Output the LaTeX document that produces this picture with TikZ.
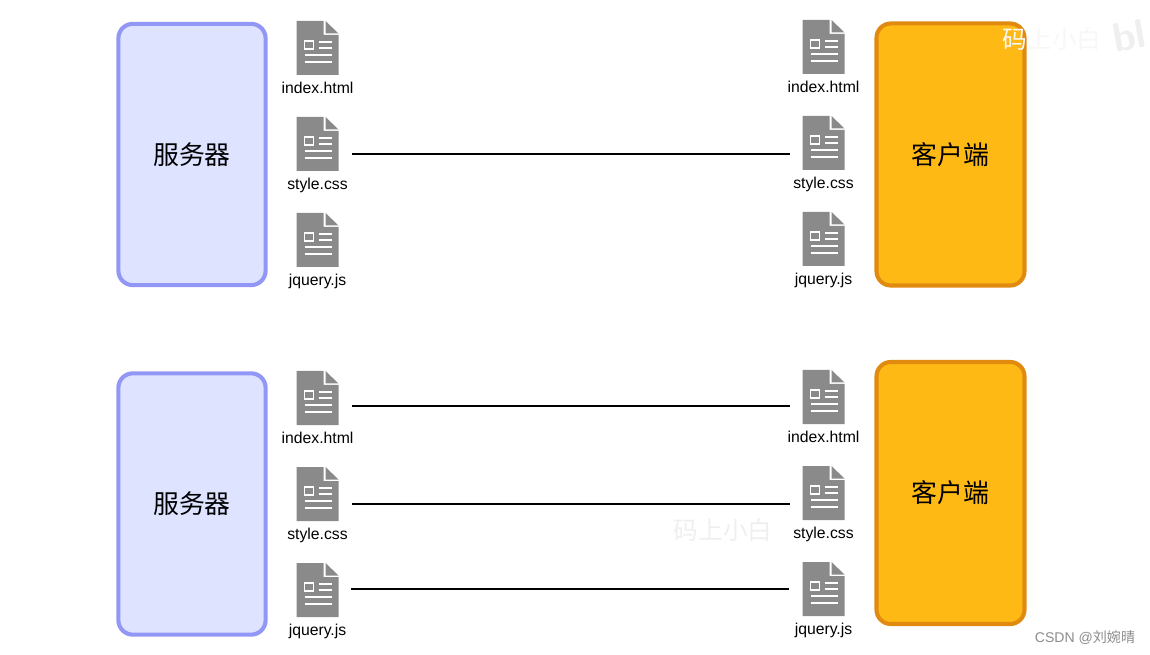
\documentclass[tikz,border=0pt]{standalone}
\usepackage{fontspec}
\usepackage{xcolor}
\usepackage{tikz}
\usetikzlibrary{positioning,calc}
\setmainfont{Liberation Sans}
\newfontfamily\cjk{Noto Sans CJK SC}
\definecolor{serverc}{HTML}{DEE3FF}
\definecolor{serverl}{HTML}{9296F5}
\definecolor{clientc}{HTML}{FFB915}
\definecolor{clientl}{HTML}{E08B0F}
\definecolor{docc}{HTML}{8A8A8A}
\definecolor{markc}{HTML}{EFEFEF}
\definecolor{csdnc}{HTML}{8C8C8C}
\tikzset{
  server/.style={draw=serverl, fill=serverc, line width=2.9pt, rounded corners=0.36cm, minimum width=3.68cm, minimum height=6.53cm, font=\cjk\fontsize{18.4}{18.4}\selectfont},
  client/.style={draw=clientl, fill=clientc, line width=2.9pt, rounded corners=0.36cm, minimum width=3.7cm, minimum height=6.55cm, font=\cjk\fontsize{18.4}{18.4}\selectfont},
  docicon/.style={minimum width=1.05cm, minimum height=1.35cm, inner sep=0pt, path picture={
    \fill[docc] (-21,-27) -- (6,-27) -- (6,-13) -- (21,-13) -- (21,27) -- (-21,27) -- cycle;
    \fill[docc] (8,-27) -- (21,-14.5) -- (8,-14.5) -- cycle;
    \draw[white, line width=1.1pt] (-13,-7) rectangle (-4,1);
    \draw[white, line width=1.7pt] (1,-6) -- (14,-6);
    \draw[white, line width=1.7pt] (1,0) -- (14,0);
    \draw[white, line width=1.7pt] (-13,7) -- (14,7);
    \draw[white, line width=1.7pt] (-13,14) -- (14,14);
  }},
  doclabel/.style={font=\fontsize{11.2}{11.2}\selectfont, inner sep=0pt, text height=8pt, text depth=2.4pt},
  link/.style={draw=black, line width=1.4pt},
  wmark/.style={text=markc, font=\cjk\fontsize{17.5}{17.5}\selectfont},
}

\begin{document}
\begin{tikzpicture}[x=0.025cm,y=-0.025cm,node distance=0.16cm]
\useasboundingbox (0,0) rectangle (1150,655);
% top row
\node[server] (servera) at (192,154.5) {服务器};
\node[client] (clienta) at (950.5,154.5) {客户端};
\node[docicon] (sa1) at (317.5,48) {};
\node[docicon] (sa2) at (317.5,144) {};
\node[docicon] (sa3) at (317.5,240) {};
\node[docicon] (ca1) at (823.5,47) {};
\node[docicon] (ca2) at (823.5,143) {};
\node[docicon] (ca3) at (823.5,239) {};
\node[doclabel, below=of sa1] (sat1) {index.html};
\node[doclabel, below=of sa2] (sat2) {style.css};
\node[doclabel, below=of sa3] (sat3) {jquery.js};
\node[doclabel, below=of ca1] (cat1) {index.html};
\node[doclabel, below=of ca2] (cat2) {style.css};
\node[doclabel, below=of ca3] (cat3) {jquery.js};
\draw[link] ($(sa2.east)+(13,10)$) -- ($(ca2.west)+(-12,11)$);
% bottom row
\node[server] (serverb) at (192,504) {服务器};
\node[client] (clientb) at (950.5,493) {客户端};
\node[docicon] (sb1) at (317.5,398) {};
\node[docicon] (sb2) at (317.5,494) {};
\node[docicon] (sb3) at (317.5,590) {};
\node[docicon] (cb1) at (823.5,397) {};
\node[docicon] (cb2) at (823.5,493) {};
\node[docicon] (cb3) at (823.5,589) {};
\node[doclabel, below=of sb1] (sbt1) {index.html};
\node[doclabel, below=of sb2] (sbt2) {style.css};
\node[doclabel, below=of sb3] (sbt3) {jquery.js};
\node[doclabel, below=of cb1] (cbt1) {index.html};
\node[doclabel, below=of cb2] (cbt2) {style.css};
\node[doclabel, below=of cb3] (cbt3) {jquery.js};
\draw[link] ($(sb1.east)+(13,8)$) -- ($(cb1.west)+(-12,9)$);
\draw[link] ($(sb2.east)+(13,10)$) -- ($(cb2.west)+(-12,11)$);
\draw[link] ($(sb3.east)+(12,-1)$) -- ($(cb3.west)+(-13,0)$);
% watermarks
\node[wmark, text=markc!50!white] (marka) at (1052,39) {码上小白};
\node[wmark, font=\sffamily\bfseries\fontsize{29}{29}\selectfont, rotate=10, inner sep=0pt] (markb) at (1129,36) {bl};
\node[wmark] (markc) at (723,530) {码上小白};
\node[text=csdnc, font=\fontsize{10}{10}\selectfont] (csdn) at (1085,638) {CSDN @{\cjk 刘婉晴}};
\end{tikzpicture}
\end{document}
